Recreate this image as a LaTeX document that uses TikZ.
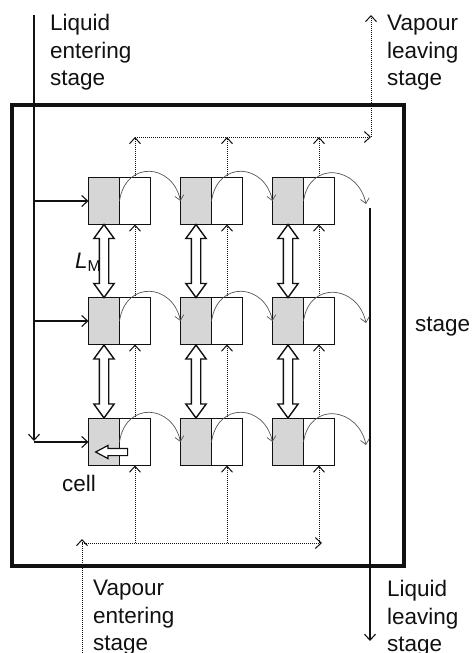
\documentclass[tikz,border=0pt]{standalone}
\usepackage{fontspec}
\setmainfont{Liberation Sans}
\usetikzlibrary{arrows.meta,positioning,calc,shapes.arrows}
\definecolor{ink}{HTML}{111111}
\definecolor{cellgray}{HTML}{D6D6D6}
\definecolor{hopgray}{HTML}{555555}

\begin{document}
\begin{tikzpicture}[x=1pt,y=-1pt,
    >={Straight Barb[length=6pt,width=11pt]},
    half/.style={draw=ink,line width=1.5pt,minimum width=31pt,minimum height=47pt,inner sep=0pt,outer sep=0pt},
    liq/.style={->,line width=1.1pt,draw=ink},
    vap/.style={->,line width=1pt,draw=ink,dash pattern=on 1pt off 1pt},
    hop/.style={-{Straight Barb[length=5pt,width=9pt]},line width=0.7pt,draw=hopgray},
    mix/.style={double arrow,draw=ink,line width=1.4pt,fill=white,minimum height=73pt,double arrow head extend=5.5pt,double arrow tip angle=72,inner xsep=0pt,inner ysep=4pt,rotate=90},
    lbl/.style={font=\fontsize{22.5}{27.5}\selectfont,align=left,inner sep=0pt,text=ink}]
    \useasboundingbox (0,0) rectangle (474,653);
    \draw[line width=3.5pt,draw=ink] (12,105) rectangle (404,566);
    \foreach \c/\x in {1/104,2/196,3/288}
      \foreach \r/\y in {1/201,2/321,3/442}{
        \node[half,fill=cellgray] (g\c\r) at (\x,\y) {};
        \node[half,fill=white,right=0pt of g\c\r] (w\c\r) {};
      }
    \node[single arrow,draw=ink,line width=1.2pt,fill=white,minimum height=32pt,
      single arrow head extend=3pt,single arrow tip angle=56,inner xsep=0pt,inner ysep=3pt,shape border rotate=180] (back) at (115,452) {};
    \foreach \c in {1,2,3}{
      \node[mix] (m\c a) at ($(g\c1.south)!0.5!(g\c2.north)$) {};
      \node[mix] (m\c b) at ($(g\c2.south)!0.5!(g\c3.north)$) {};
    }
    \coordinate (vtop) at (0,137);
    \coordinate (vbot) at (0,543);
    \coordinate (vtr) at (371,137);
    \coordinate (vout) at (371,15);
    \coordinate (vin) at (82,653);
    \coordinate (vbl) at (82,539);
    \coordinate (vbr) at (322,543);
    \foreach \c in {1,2,3}{
      \draw[vap] (w\c1.north) -- (w\c1.north |- vtop);
      \draw[vap] (w\c2.north) -- (w\c1.south);
      \draw[vap] (w\c3.north) -- (w\c2.south);
      \draw[vap] (w\c3.south |- vbot) -- (w\c3.south);
    }
    \draw[vap] (w11.north |- vtop) -- (vtr);
    \draw[vap] (vtr) -- (vout);
    \draw[vap] (vin) -- (vbl);
    \draw[vap] (vbl |- vbot) -- (vbr);
    \coordinate (lin) at (34,15);
    \coordinate (lbot) at (34,441);
    \coordinate (lout) at (370,208);
    \coordinate (lend) at (370,641);
    \draw[liq] (lin) -- (lbot);
    \foreach \r in {1,2,3}
      \draw[liq] (g1\r.west -| lin) -- (g1\r.west);
    \draw[liq] (lout) -- (lend);
    \foreach \r/\y in {1/204,2/323,3/445}{
      \coordinate (e\r) at (366,\y);
      \draw[hop] (w1\r.west) .. controls +(6,-41) and +(-8,-38) .. (g2\r.west);
      \draw[hop] (w2\r.west) .. controls +(6,-41) and +(-8,-38) .. (g3\r.west);
      \draw[hop] (w3\r.west) .. controls +(6,-41) and +(-8,-38) .. (e\r);
    }
    \node[lbl,anchor=north west] (liqin) at (50,14) {Liquid\\entering\\stage};
    \node[lbl,anchor=north west] (vapout) at (387,15) {Vapour\\leaving\\stage};
    \node[lbl,anchor=north west] (vapin) at (93,580) {Vapour\\entering\\stage};
    \node[lbl,anchor=north west] (liqout) at (387,580) {Liquid\\leaving\\stage};
    \node[lbl,anchor=base west] (stg) at (415,331) {stage};
    \node[lbl,anchor=base west] (celltxt) at (62,491) {cell};
    \node[lbl,anchor=base west] (lm) at (75,268) {\textit{L}\textsubscript{M}};
\end{tikzpicture}
\end{document}
